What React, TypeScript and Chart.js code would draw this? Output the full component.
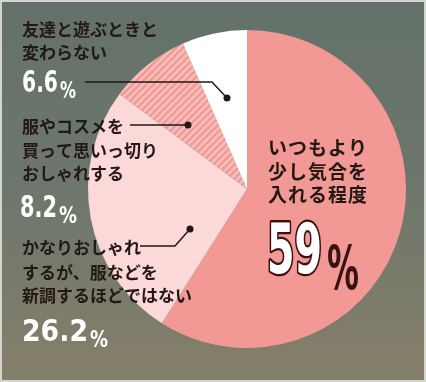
import React, { useEffect, useRef } from "react";
import { Chart, registerables } from "chart.js";

Chart.register(...registerables);

const categories = [
  "いつもより少し気合を入れる程度",
  "かなりおしゃれするが、服などを新調するほどではない",
  "服やコスメを買って思いっ切りおしゃれする",
  "友達と遊ぶときと変わらない",
];
const values = [59, 26.2, 8.2, 6.6];
const valueLabels = ["59", "26.2", "8.2", "6.6"];
const labelLines = [
  ["いつもより", "少し気合を", "入れる程度"],
  ["かなりおしゃれ", "するが、服などを", "新調するほどではない"],
  ["服やコスメを", "買って思いっ切り", "おしゃれする"],
  ["友達と遊ぶときと", "変わらない"],
];

const DARK = "#231815";
const JP = '"Noto Sans CJK JP", "Noto Sans", sans-serif';
const NUM = '"Liberation Sans Narrow", "DejaVu Sans Condensed", "Liberation Sans", sans-serif';

function makeHatch(): CanvasPattern | string {
  const c = document.createElement("canvas");
  const s = 7;
  c.width = s;
  c.height = s;
  const g = c.getContext("2d");
  if (!g) return "#f4b0ad";
  g.fillStyle = "#f8bebb";
  g.fillRect(0, 0, s, s);
  g.strokeStyle = "#f09a96";
  g.lineWidth = 2.3;
  g.beginPath();
  g.moveTo(-1, s + 1);
  g.lineTo(s + 1, -1);
  g.moveTo(-1, 1);
  g.lineTo(1, -1);
  g.moveTo(s - 1, s + 1);
  g.lineTo(s + 1, s - 1);
  g.stroke();
  const p = g.createPattern(c, "repeat");
  return p || "#f4b0ad";
}

function drawNumber(
  ctx: CanvasRenderingContext2D,
  digits: string,
  x: number,
  baseline: number,
  digitH: number,
  digitW: number,
  pctH: number,
  pctW: number,
  gap: number,
  fill: string,
  stroke: string | null,
  pctFill: string
) {
  const fs = digitH / 0.72;
  ctx.save();
  ctx.font = `bold ${fs}px ${NUM}`;
  ctx.textBaseline = "alphabetic";
  ctx.textAlign = "left";
  const w = ctx.measureText(digits).width;
  const sx = digitW / w;
  ctx.translate(x, baseline);
  ctx.scale(sx, 1);
  if (stroke) {
    ctx.lineWidth = 3 / sx;
    ctx.strokeStyle = stroke;
    ctx.lineJoin = "round";
    ctx.strokeText(digits, 0, 0);
  }
  ctx.fillStyle = fill;
  ctx.fillText(digits, 0, 0);
  ctx.restore();

  const pfs = pctH / 0.72;
  ctx.save();
  ctx.font = `bold ${pfs}px ${NUM}`;
  const pw = ctx.measureText("%").width;
  ctx.translate(x + digitW + gap, baseline);
  ctx.scale(pctW / pw, 1);
  ctx.fillStyle = pctFill;
  ctx.fillText("%", 0, 0);
  ctx.restore();
}

const decorPlugin = {
  id: "decor",
  beforeDraw(chart: any) {
    const { ctx, width, height } = chart;
    ctx.save();
    const g = ctx.createLinearGradient(0, 0, 0, height);
    g.addColorStop(0, "#63716a");
    g.addColorStop(0.5, "#6e776c");
    g.addColorStop(1, "#857f69");
    ctx.fillStyle = g;
    ctx.fillRect(0, 0, width, height);
    ctx.strokeStyle = "#d3d6ce";
    ctx.lineWidth = 2;
    ctx.strokeRect(1, 1, width - 2, height - 2);
    ctx.restore();
  },
  afterDraw(chart: any) {
    const ctx: CanvasRenderingContext2D = chart.ctx;
    ctx.save();
    ctx.textBaseline = "middle";
    ctx.textAlign = "left";

    const drawLines = (lines: string[], x: number, ys: number[], size: number) => {
      ctx.font = `bold ${size}px ${JP}`;
      ctx.fillStyle = DARK;
      lines.forEach((t, i) => ctx.fillText(t, x, ys[i]));
    };
    drawLines(labelLines[3], 22, [30, 53], 17);
    drawLines(labelLines[2], 22, [127, 151, 174], 17);
    drawLines(labelLines[1], 22, [248, 273, 296], 17);
    ctx.save();
    (ctx as any).letterSpacing = "1px";
    drawLines(labelLines[0], 268, [148, 172, 195], 19);
    ctx.restore();

    ctx.strokeStyle = DARK;
    ctx.fillStyle = DARK;
    ctx.lineWidth = 1.5;
    const leader = (pts: number[][]) => {
      ctx.beginPath();
      ctx.moveTo(pts[0][0], pts[0][1]);
      for (let i = 1; i < pts.length; i++) ctx.lineTo(pts[i][0], pts[i][1]);
      ctx.stroke();
      const e = pts[pts.length - 1];
      ctx.beginPath();
      ctx.arc(e[0], e[1], 3.5, 0, Math.PI * 2);
      ctx.fill();
    };
    leader([[85, 82], [212, 82], [227, 98]]);
    leader([[130, 125], [188, 125]]);
    leader([[140, 246], [175, 246], [190, 229]]);

    drawNumber(ctx, valueLabels[3], 22, 92, 22, 36, 17, 16, 2, "#ffffff", null, "#ffffff");
    drawNumber(ctx, valueLabels[2], 20, 217, 22, 37, 17, 18, 2, "#ffffff", null, "#ffffff");
    drawNumber(ctx, valueLabels[1], 22, 341, 22, 66, 17, 18, 2, "#ffffff", null, "#ffffff");
    drawNumber(ctx, valueLabels[0], 267, 273, 50, 55, 44, 32, 5, "#ffffff", "#3a1212", "#3a1212");
    ctx.restore();
  },
};

export default function App() {
  const ref = useRef<HTMLCanvasElement | null>(null);
  useEffect(() => {
    document.body.style.margin = "0";
    const canvas = ref.current;
    if (!canvas) return;
    const chart = new Chart(canvas, {
      type: "pie",
      data: {
        labels: categories,
        datasets: [
          {
            data: values,
            backgroundColor: ["#f29996", "#fad9d8", makeHatch(), "#ffffff"],
            borderWidth: 0,
          },
        ],
      },
      options: {
        responsive: false,
        devicePixelRatio: 1,
        animation: false,
        rotation: 0,
        layout: { padding: { left: 88, right: 20, top: 30, bottom: 34 } },
        plugins: {
          legend: { display: false },
          tooltip: { enabled: false },
        },
      },
      plugins: [decorPlugin],
    });
    return () => chart.destroy();
  }, []);
  return (
    <div style={{ width: 426, height: 382 }}>
      <canvas ref={ref} width={426} height={382} style={{ display: "block" }} />
    </div>
  );
}
